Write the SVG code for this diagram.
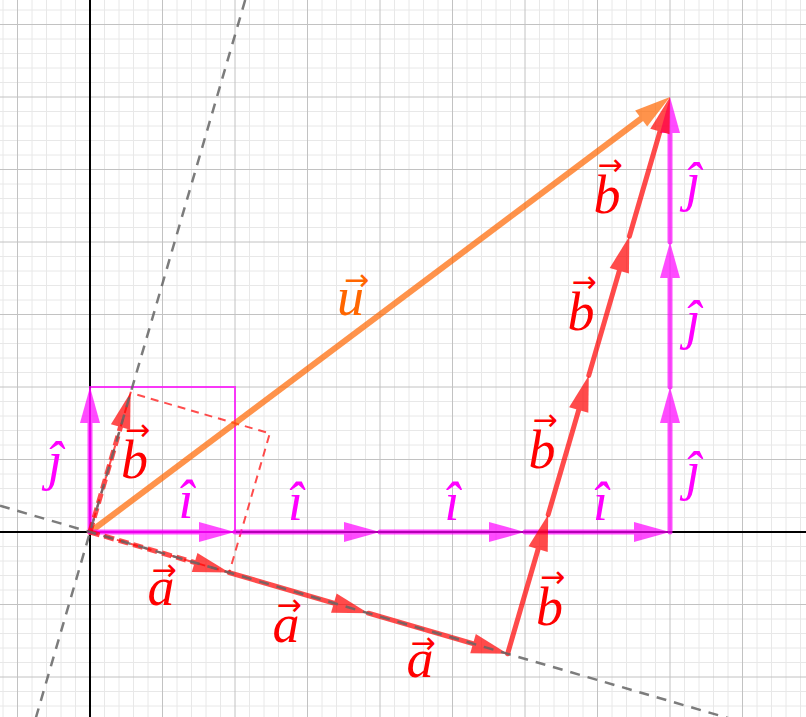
<svg xmlns="http://www.w3.org/2000/svg" width="806" height="717" viewBox="0 0 806 717">
<defs>
<style>
.minor{stroke:#e8e8e8;stroke-width:1}
.major{stroke:#c2c2c2;stroke-width:1}
.axis{stroke:#000;stroke-width:2}
.guide{stroke:#666;stroke-width:2.5;stroke-dasharray:10 8;opacity:0.85}
.vm{opacity:0.7}
.vm line{stroke:#ff00ff;stroke-width:5;stroke-linecap:round}
.vr{opacity:0.7}
.vr line{stroke:#ff0000;stroke-width:5;stroke-linecap:round}
.vr line.dash{stroke-dasharray:10 5;stroke-linecap:butt}
.vo{opacity:0.7}
.vo line{stroke:#ff6600;stroke-width:6;stroke-linecap:round}
.lbl{font-family:"Liberation Serif","DejaVu Serif",serif;font-style:italic;font-size:54px;text-anchor:middle}
.arr{font-family:"DejaVu Sans",sans-serif;font-style:normal;font-size:30px}
.lr{fill:#ff0000}
.lm{fill:#ff00ff}
.lo{fill:#ff6600}
</style>
<marker id="hm" markerUnits="userSpaceOnUse" markerWidth="40" markerHeight="24" refX="16" refY="10" orient="auto" overflow="visible"><path d="M0,0 L36,10 L0,20 z" fill="#ff00ff"/></marker>
<marker id="hr" markerUnits="userSpaceOnUse" markerWidth="40" markerHeight="24" refX="16" refY="10" orient="auto" overflow="visible"><path d="M0,0 L36,10 L0,20 z" fill="#ff0000"/></marker>
<marker id="ho" markerUnits="userSpaceOnUse" markerWidth="40" markerHeight="24" refX="16" refY="10" orient="auto" overflow="visible"><path d="M0,0 L36,10 L0,20 z" fill="#ff6600"/></marker>
</defs>
<rect width="806" height="717" fill="#fff"/>
<g id="grid">
<path class="minor" d="M3,0V717M32,0V717M46.5,0V717M61,0V717M75.5,0V717M104.5,0V717M119,0V717M133.5,0V717M148,0V717M177,0V717M191.5,0V717M206,0V717M220.5,0V717M249.5,0V717M264,0V717M278.5,0V717M293,0V717M322,0V717M336.5,0V717M351,0V717M365.5,0V717M394.5,0V717M409,0V717M423.5,0V717M438,0V717M467,0V717M481.5,0V717M496,0V717M510.5,0V717M539.5,0V717M554,0V717M568.5,0V717M583,0V717M612,0V717M626.5,0V717M641,0V717M655.5,0V717M684.5,0V717M699,0V717M713.5,0V717M728,0V717M757,0V717M771.5,0V717M786,0V717M800.5,0V717"/>
<path class="minor" d="M0,10H806M0,39H806M0,53.5H806M0,68H806M0,82.5H806M0,111.5H806M0,126H806M0,140.5H806M0,155H806M0,184H806M0,198.5H806M0,213H806M0,227.5H806M0,256.5H806M0,271H806M0,285.5H806M0,300H806M0,329H806M0,343.5H806M0,358H806M0,372.5H806M0,401.5H806M0,416H806M0,430.5H806M0,445H806M0,474H806M0,488.5H806M0,503H806M0,517.5H806M0,546.5H806M0,561H806M0,575.5H806M0,590H806M0,619H806M0,633.5H806M0,648H806M0,662.5H806M0,691.5H806M0,706H806"/>
<path class="major" d="M17.5,0V717M162.5,0V717M235,0V717M307.5,0V717M380,0V717M452.5,0V717M525,0V717M597.5,0V717M670,0V717M742.5,0V717"/>
<path class="major" d="M0,24.5H806M0,97H806M0,169.5H806M0,242H806M0,314.5H806M0,387H806M0,459.5H806M0,604.5H806M0,677H806"/>
<path class="axis" d="M0,532H806M90,0V717"/>
</g>
<g id="squares">
<rect x="90" y="387" width="145" height="145" fill="none" stroke="#ff00ff" stroke-width="2" opacity="0.75"/>
<polygon points="90,532 229.2,572.6 269.8,433.4 130.6,392.8" fill="none" stroke="#ff0000" stroke-width="2" stroke-dasharray="8 6" opacity="0.7"/>
</g>
<g id="connectors">
<g id="vec-u" class="vo"><line x1="90" y1="532" x2="654" y2="109" marker-end="url(#ho)"/></g>
<g id="vec-i1" class="vm"><line x1="90" y1="532" x2="215" y2="532" marker-end="url(#hm)"/></g>
<g id="vec-i2" class="vm"><line x1="235" y1="532" x2="360" y2="532" marker-end="url(#hm)"/></g>
<g id="vec-i3" class="vm"><line x1="380" y1="532" x2="505" y2="532" marker-end="url(#hm)"/></g>
<g id="vec-i4" class="vm"><line x1="525" y1="532" x2="650" y2="532" marker-end="url(#hm)"/></g>
<g id="vec-j0" class="vm"><line x1="90" y1="532" x2="90" y2="407" marker-end="url(#hm)"/></g>
<g id="vec-j1" class="vm"><line x1="670" y1="532" x2="670" y2="407" marker-end="url(#hm)"/></g>
<g id="vec-j2" class="vm"><line x1="670" y1="387" x2="670" y2="262" marker-end="url(#hm)"/></g>
<g id="vec-j3" class="vm"><line x1="670" y1="242" x2="670" y2="117" marker-end="url(#hm)"/></g>
<g id="vec-a1" class="vr"><line class="dash" x1="90" y1="532" x2="210" y2="567" marker-end="url(#hr)"/></g>
<g id="vec-a2" class="vr"><line x1="229.2" y1="572.6" x2="349.2" y2="607.6" marker-end="url(#hr)"/></g>
<g id="vec-a3" class="vr"><line x1="368.4" y1="613.2" x2="488.4" y2="648.2" marker-end="url(#hr)"/></g>
<g id="vec-b0" class="vr"><line class="dash" x1="90" y1="532" x2="125" y2="411.6" marker-end="url(#hr)"/></g>
<g id="vec-b1" class="vr"><line x1="507.6" y1="653.8" x2="542.6" y2="533.8" marker-end="url(#hr)"/></g>
<g id="vec-b2" class="vr"><line x1="548.2" y1="514.6" x2="583.2" y2="394.6" marker-end="url(#hr)"/></g>
<g id="vec-b3" class="vr"><line x1="588.8" y1="375.4" x2="623.8" y2="255.4" marker-end="url(#hr)"/></g>
<g id="vec-b4" class="vr"><line x1="629.4" y1="236.2" x2="664.4" y2="116.2" marker-end="url(#hr)"/></g>
<line id="guide-a" class="guide" x1="0" y1="505.75" x2="806" y2="740.8"/>
<line id="guide-b" class="guide" x1="245.2" y1="0" x2="36" y2="717.3"/>
</g>
<g id="labels">
<text class="lbl lr"><tspan x="134.5" y="478">b</tspan><tspan class="arr" x="137.5" y="440">→</tspan></text>
<text class="lbl lm" x="55" y="479">ĵ</text>
<text class="lbl lm" x="186" y="518">î</text>
<text class="lbl lm" x="295.5" y="520">î</text>
<text class="lbl lm" x="452" y="520">î</text>
<text class="lbl lm" x="600.5" y="520">î</text>
<text class="lbl lm" x="693" y="200">ĵ</text>
<text class="lbl lm" x="693" y="338">ĵ</text>
<text class="lbl lm" x="693" y="489">ĵ</text>
<text class="lbl lr"><tspan x="161" y="605">a</tspan><tspan class="arr" x="164" y="580">→</tspan></text>
<text class="lbl lr"><tspan x="286" y="642">a</tspan><tspan class="arr" x="289" y="615">→</tspan></text>
<text class="lbl lr"><tspan x="420" y="677">a</tspan><tspan class="arr" x="423" y="653">→</tspan></text>
<text class="lbl lr"><tspan x="549.5" y="625">b</tspan><tspan class="arr" x="552.5" y="587">→</tspan></text>
<text class="lbl lr"><tspan x="542" y="468">b</tspan><tspan class="arr" x="545" y="430">→</tspan></text>
<text class="lbl lr"><tspan x="581" y="330">b</tspan><tspan class="arr" x="584" y="292">→</tspan></text>
<text class="lbl lr"><tspan x="607" y="213">b</tspan><tspan class="arr" x="610" y="175">→</tspan></text>
<text class="lbl lo"><tspan x="350.5" y="315">u</tspan><tspan class="arr" x="356.5" y="290">→</tspan></text>
</g>
</svg>
